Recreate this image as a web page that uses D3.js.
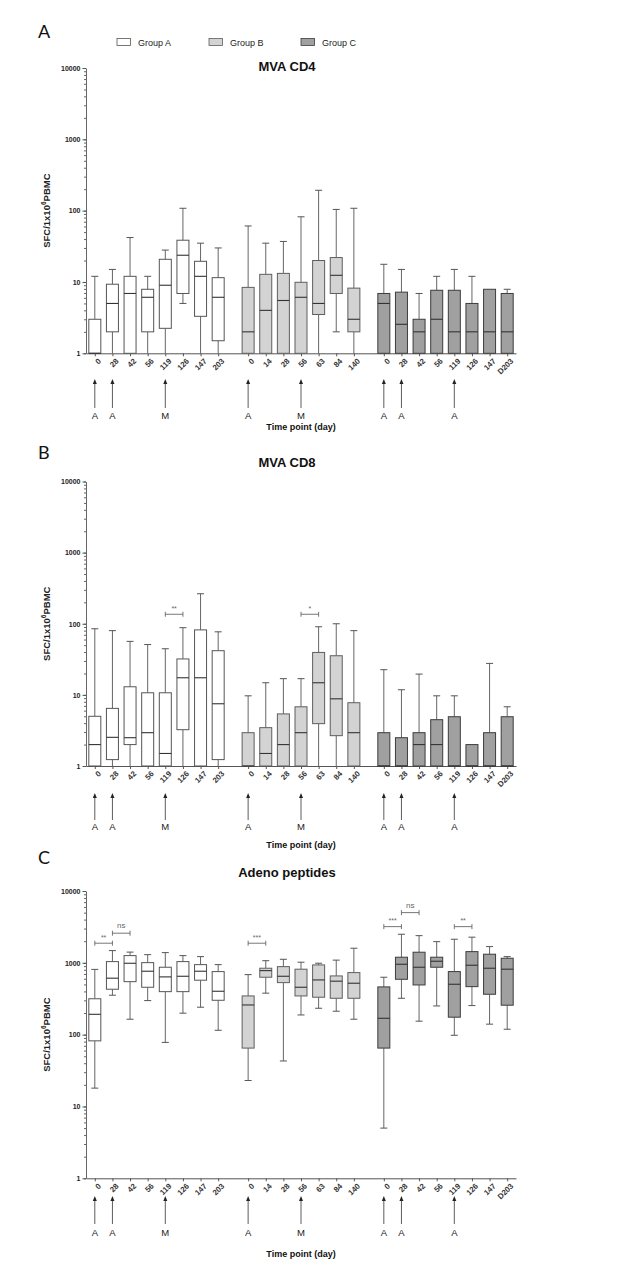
<!DOCTYPE html>
<html>
<head>
<meta charset="utf-8">
<script src="https://cdnjs.cloudflare.com/ajax/libs/d3/7.8.5/d3.min.js"></script>
<style>
  body { margin: 0; background: #fff; }
  svg { display: block; }
</style>
</head>
<body>
<div id="chart"></div>
<script>
var w = 628;
var h = 1276;
var font = "'Liberation Sans', Arial, sans-serif";

// groups and their time points (days)
var groups = ['Group A', 'Group B', 'Group C'];
var daysA = ['0', '28', '42', '56', '119', '126', '147', '203'];
var daysB = ['0', '14', '28', '56', '63', '84', '140'];
var daysC = ['0', '28', '42', '56', '119', '126', '147', 'D203'];

// box stats per time point: [min, q1, median, q3, max]
var cd4A = [[1, 1, 1, 3, 12], [1, 2, 5, 9.3, 15], [1, 1, 6.9, 12, 42], [1, 2, 6.1, 7.9, 12],
  [1, 2.24, 9, 20.8, 28], [5, 6.9, 23.7, 38.5, 108], [1, 3.3, 12, 19.5, 35], [1, 1.5, 6.1, 11.5, 30]];
var cd4B = [[1, 1, 2, 8.4, 61], [1, 1, 4, 12.8, 35], [1, 1, 5.5, 13.2, 37], [1, 1, 6.1, 9.9, 82],
  [1, 3.5, 5, 20, 193], [2, 6.9, 12.4, 22, 104], [1, 2, 3, 8.2, 108]];
var cd4C = [[1, 1, 5, 6.9, 17.7], [1, 1, 2.55, 7.2, 15], [1, 1, 2, 3, 6.9], [1, 1, 3, 7.65, 12],
  [1, 1, 2, 7.65, 15], [1, 1, 2, 5, 12], [1, 1, 2, 7.9, 7.9], [1, 1, 2, 6.9, 7.9]];

var cd8A = [[1, 1, 2, 5, 85], [1, 1.23, 2.53, 6.46, 80], [1, 2, 2.5, 13, 56.5], [1, 1, 2.94, 10.7, 51],
  [1, 1, 1.5, 10.7, 44.5], [1, 3.24, 17.4, 32, 88], [1, 1, 17.4, 82, 264], [1, 1.23, 7.5, 41.8, 77]];
var cd8B = [[1, 1, 1, 2.94, 9.7], [1, 1, 1.5, 3.46, 14.8], [1, 1, 2, 5.4, 16.9], [1, 1, 2.94, 6.8, 16.9],
  [1, 3.94, 14.8, 39.5, 90.7], [1, 2.67, 8.8, 35.5, 100], [1, 1, 2.94, 7.76, 80]];
var cd8C = [[1, 1, 1, 2.94, 22.6], [1, 1, 1, 2.5, 11.8], [1, 1, 2, 2.94, 19.6], [1, 1, 2, 4.48, 9.7],
  [1, 1, 1, 4.93, 9.7], [1, 1, 1, 2, 2], [1, 1, 1, 2.94, 27.7], [1, 1, 1, 4.93, 6.8]];

var adenoA = [[18, 82, 192, 316, 810], [354, 429, 611, 1040, 1480], [164, 547, 986, 1260, 1410],
  [298, 457, 764, 1006, 1300], [78, 397, 637, 868, 1387], [199, 397, 650, 1040, 1260],
  [241, 573, 764, 944, 1220], [115, 301, 402, 755, 944]];
var adenoB = [[23, 65, 259, 346, 685], [378, 630, 779, 841, 1070], [43, 530, 650, 885, 1120],
  [188, 346, 457, 815, 1020], [233, 332, 578, 935, 987], [212, 321, 555, 657, 1090],
  [164, 321, 520, 731, 1597]];
var adenoC = [[5, 65, 169, 462, 630], [321, 590, 955, 1197, 2500], [154, 492, 868, 1405, 2390],
  [251, 868, 1052, 1197, 1972], [98, 175, 503, 755, 2130], [254, 466, 926, 1432, 2275],
  [140, 365, 841, 1318, 1682], [119, 257, 815, 1158, 1220]];

// vaccinations: group index, day, vaccine (A = adeno, M = MVA)
var vaccinations = [[0, '0', 'A'], [0, '28', 'A'], [0, '119', 'M'], [1, '0', 'A'], [1, '56', 'M'],
  [2, '0', 'A'], [2, '28', 'A'], [2, '119', 'A']];

// significance brackets: [group, from day, to day, label, height value]
var cd8Sig = [[0, '119', '126', '**', 136], [1, '56', '63', '*', 136]];
var adenoSig = [[0, '0', '28', '**', 1875], [0, '28', '42', 'ns', 2585], [1, '0', '14', '***', 1875],
  [2, '0', '28', '***', 3190], [2, '28', '42', 'ns', 5000], [2, '119', '126', '**', 3190]];

var fills = ['#ffffff', '#d3d3d3', '#a0a0a0'];
var strokes = ['#555555', '#5e5e5e', '#3c3c3c'];

// one slot per box, with a wider gap between groups
var boxes = [];
[daysA, daysB, daysC].forEach(function(days, g) {
  days.forEach(function(d, j) {
    boxes.push({ group: g, day: d, idx: j, slot: boxes.length + g * 0.7 });
  });
});
var slotOf = function(g, day) {
  return boxes.filter(function(b) { return b.group == g && b.day == day; })[0].slot;
};

var x = d3.scaleLinear()
  .domain([-0.5, boxes[boxes.length - 1].slot + 0.5])
  .range([86, 516]);

var panels = [
  { letter: 'A', title: 'MVA CD4', stats: [cd4A, cd4B, cd4C], sig: [],
    top: 68, bottom: 353.3, letterY: 31, titleY: 66, arrowTop: 379, arrowBot: 408, markY: 415, xTitleY: 426 },
  { letter: 'B', title: 'MVA CD8', stats: [cd8A, cd8B, cd8C], sig: cd8Sig,
    top: 481.5, bottom: 766, letterY: 452, titleY: 462.5, arrowTop: 793, arrowBot: 820, markY: 826, xTitleY: 844 },
  { letter: 'C', title: 'Adeno peptides', stats: [adenoA, adenoB, adenoC], sig: adenoSig,
    top: 891, bottom: 1178.3, letterY: 857, titleY: 872.5, arrowTop: 1196, arrowBot: 1224, markY: 1232, xTitleY: 1253 }
];

var svg = d3.select('#chart')
  .append('svg')
    .attr('width', w)
    .attr('height', h)
    .style('font-family', font);

// legend (top of panel A)
var legend = svg.append('g').attr('class', 'legend');
var legendX = [117, 209, 301];
groups.forEach(function(name, i) {
  legend.append('rect')
    .attr('x', legendX[i]).attr('y', 38.5)
    .attr('width', 13.5).attr('height', 7)
    .attr('fill', fills[i]).attr('stroke', strokes[i]).attr('stroke-width', 0.8);
  legend.append('text')
    .attr('x', legendX[i] + 21).attr('y', 45.5)
    .attr('font-size', 9).attr('fill', '#222')
    .text(name);
});

panels.forEach(function(p) {
  var g = svg.append('g');
  var y = d3.scaleLog().domain([1, 10000]).range([p.bottom, p.top]);

  g.append('text')
    .attr('x', 38).attr('y', p.letterY + 6.5)
    .attr('font-family', "Lato, 'Open Sans', sans-serif")
    .attr('font-size', 18).attr('fill', '#111')
    .text(p.letter);

  g.append('text')
    .attr('x', 287).attr('y', p.titleY + 4.5)
    .attr('text-anchor', 'middle')
    .attr('font-size', 13).attr('font-weight', 'bold').attr('fill', '#111')
    .text(p.title);

  // y axis: minor ticks, then labelled decades
  g.append('g')
    .attr('transform', 'translate(86,0)')
    .call(d3.axisLeft(y).tickValues(y.ticks()).tickSize(2).tickSizeOuter(0).tickFormat(''))
    .call(function(a) { a.selectAll('path, line').attr('stroke', '#666'); });
  g.append('g')
    .attr('transform', 'translate(86,0)')
    .call(d3.axisLeft(y).tickValues([1, 10, 100, 1000, 10000]).tickSize(3.5).tickSizeOuter(0)
      .tickPadding(2).tickFormat(d3.format('d')))
    .call(function(a) {
      a.select('.domain').remove();
      a.selectAll('line').attr('stroke', '#555');
      a.selectAll('text').attr('font-size', 7).attr('font-weight', 'bold')
        .attr('font-family', font).attr('fill', '#222');
    });

  var ylab = g.append('text')
    .attr('transform', 'translate(50,' + y(100) + ') rotate(-90)')
    .attr('text-anchor', 'middle')
    .attr('font-size', 9.5).attr('font-weight', 'bold').attr('fill', '#222');
  ylab.append('tspan').text('SFC/1x10');
  ylab.append('tspan').attr('font-size', 6.5).attr('dy', -4).text('6');
  ylab.append('tspan').attr('dy', 4).text('PBMC');

  // x axis with rotated day labels
  g.append('g')
    .attr('transform', 'translate(0,' + p.bottom + ')')
    .call(d3.axisBottom(x)
      .tickValues(boxes.map(function(b) { return b.slot; }))
      .tickSize(3).tickSizeOuter(0)
      .tickFormat(function(s, i) { return boxes[i].day; }))
    .call(function(a) {
      a.selectAll('path, line').attr('stroke', '#555');
      a.selectAll('text')
        .attr('font-size', 7.8).attr('font-weight', 'bold').attr('font-family', font)
        .attr('fill', '#333')
        .attr('x', -1.5).attr('y', 7.5).attr('dy', '0.35em')
        .attr('transform', 'rotate(-45)')
        .style('text-anchor', 'end');
    });

  // box plots
  var bw = 12;
  boxes.forEach(function(b) {
    var s = p.stats[b.group][b.idx];
    var cx = x(b.slot);
    var col = strokes[b.group];
    var bg = g.append('g');
    if (s[4] > s[3]) {
      bg.append('line').attr('x1', cx).attr('x2', cx).attr('y1', y(s[3])).attr('y2', y(s[4]))
        .attr('stroke', '#666');
      bg.append('line').attr('x1', cx - 3.5).attr('x2', cx + 3.5).attr('y1', y(s[4])).attr('y2', y(s[4]))
        .attr('stroke', '#555');
    }
    if (s[0] < s[1]) {
      bg.append('line').attr('x1', cx).attr('x2', cx).attr('y1', y(s[0])).attr('y2', y(s[1]))
        .attr('stroke', '#666');
      if (s[0] > 1) {
        bg.append('line').attr('x1', cx - 3.5).attr('x2', cx + 3.5).attr('y1', y(s[0])).attr('y2', y(s[0]))
          .attr('stroke', '#555');
      }
    }
    bg.append('rect')
      .attr('x', cx - bw / 2).attr('y', y(s[3]))
      .attr('width', bw).attr('height', y(s[1]) - y(s[3]))
      .attr('fill', fills[b.group]).attr('stroke', col).attr('stroke-width', 1);
    bg.append('line')
      .attr('x1', cx - bw / 2).attr('x2', cx + bw / 2)
      .attr('y1', y(s[2])).attr('y2', y(s[2]))
      .attr('stroke', '#333').attr('stroke-width', 1.1);
  });

  // significance brackets
  p.sig.forEach(function(sg) {
    var x1 = x(slotOf(sg[0], sg[1]));
    var x2 = x(slotOf(sg[0], sg[2]));
    var yy = y(sg[4]);
    var br = g.append('g').attr('stroke', '#666').attr('stroke-width', 0.9);
    br.append('line').attr('x1', x1).attr('x2', x2).attr('y1', yy).attr('y2', yy);
    br.append('line').attr('x1', x1).attr('x2', x1).attr('y1', yy - 2.5).attr('y2', yy + 2.5);
    br.append('line').attr('x1', x2).attr('x2', x2).attr('y1', yy - 2.5).attr('y2', yy + 2.5);
    g.append('text')
      .attr('x', (x1 + x2) / 2).attr('y', sg[3] == 'ns' ? yy - 5 : yy - 3.5)
      .attr('text-anchor', 'middle')
      .attr('font-size', sg[3] == 'ns' ? 8 : 7).attr('fill', '#666')
      .text(sg[3]);
  });

  // vaccination arrows
  vaccinations.forEach(function(v) {
    var ax = x(slotOf(v[0], v[1]));
    g.append('line')
      .attr('x1', ax).attr('x2', ax).attr('y1', p.arrowTop + 4).attr('y2', p.arrowBot)
      .attr('stroke', '#333').attr('stroke-width', 0.8);
    g.append('path')
      .attr('d', 'M' + ax + ',' + p.arrowTop + 'L' + (ax - 2) + ',' + (p.arrowTop + 5) +
        'L' + (ax + 2) + ',' + (p.arrowTop + 5) + 'Z')
      .attr('fill', '#222');
    g.append('text')
      .attr('x', ax).attr('y', p.markY + 3.5)
      .attr('text-anchor', 'middle')
      .attr('font-size', 9.5).attr('fill', '#222')
      .text(v[2]);
  });

  g.append('text')
    .attr('x', 301).attr('y', p.xTitleY + 3.5)
    .attr('text-anchor', 'middle')
    .attr('font-size', 9).attr('font-weight', 'bold').attr('fill', '#111')
    .text('Time point (day)');
});
</script>
</body>
</html>
